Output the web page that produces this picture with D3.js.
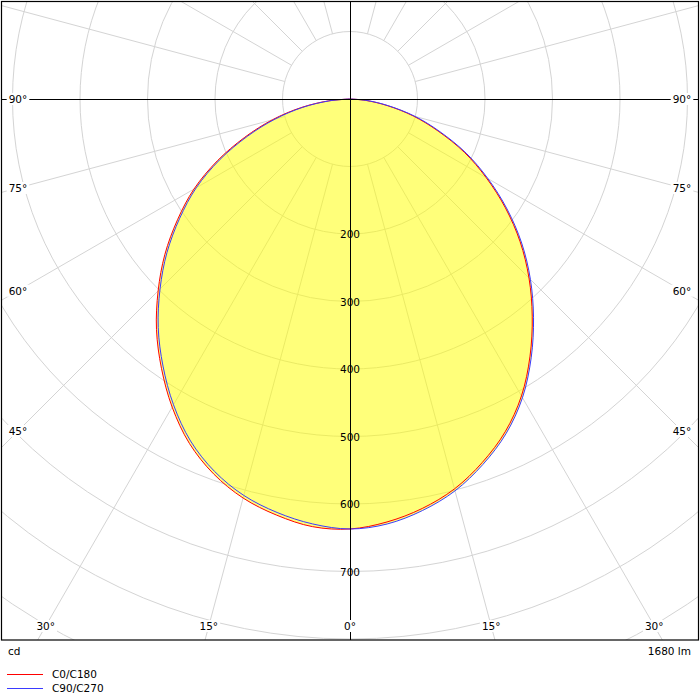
<!DOCTYPE html>
<html>
<head>
<meta charset="utf-8">
<script src="https://cdn.jsdelivr.net/npm/d3@7"></script>
<style>
  html, body { margin: 0; padding: 0; background: #fff; }
  svg { display: block; font-family: "DejaVu Sans", Verdana, sans-serif; font-size: 10.5px; }
</style>
</head>
<body>
<svg id="chart" width="700" height="700"></svg>
<script>
// ---- data ----
const gammaAngles = [0, 5, 10, 15, 20, 25, 30, 35, 40, 45, 50, 55, 60, 65, 70, 75, 80, 85, 90];
// C0/C180 (red): C0 right half, C180 left half
const c0   = [637, 629, 616, 598, 573, 544, 508, 465, 420, 375, 329, 281, 233, 187, 139, 97, 56, 23, 0];
const c180 = [637, 636, 626, 612, 591, 563, 527, 487, 446, 402, 358, 312, 267, 217, 166, 119, 74, 32, 0];
// C90/C270 (blue): C90 right half, C270 left half
const c90  = [637, 632, 619, 601, 576, 547, 511, 468, 423, 378, 332, 284, 236, 190, 142, 100, 58, 25, 0];
const c270 = [637, 632, 622, 608, 587, 559, 523, 483, 442, 398, 354, 308, 263, 213, 162, 115, 71, 30, 0];

const ringValues = [100, 200, 300, 400, 500, 600, 700, 800, 900, 1000];
const ringLabelValues = [200, 300, 400, 500, 600, 700];
const angleLabels = [90, 75, 60, 45, 30, 15, 0];
const spokeAngles = [15, 30, 45, 60, 75, 105, 120, 135, 150, 165, 195, 210, 225, 240, 255, 285, 300, 315, 330, 345];
const seriesNames = ["C0/C180", "C90/C270"];
const seriesColors = ["#ff0000", "#3a3aff"];
const unitLabel = "cd";
const fluxLabel = "1680 lm";

// ---- layout ----
const W = 700, chartH = 640;
const cx = 350, cy = 99;
const r = d3.scaleLinear().domain([0, 100]).range([0, 67.5]);
const rad = d => d * Math.PI / 180;

const svg = d3.select("#chart");
svg.append("defs").append("clipPath").attr("id", "clip")
  .append("rect").attr("x", 1).attr("y", 1).attr("width", 698).attr("height", chartH - 1);

const plot = svg.append("g").attr("clip-path", "url(#clip)");
const g = plot.append("g").attr("transform", `translate(${cx},${cy})`);

// rings
g.selectAll("circle.ring").data(ringValues).join("circle")
  .attr("class", "ring").attr("r", d => r(d))
  .attr("fill", "none").attr("stroke", "#d4d4d4").attr("stroke-width", 1);

// spokes (angle from downward vertical, clockwise to the right)
g.selectAll("line.spoke").data(spokeAngles).join("line")
  .attr("x1", d => r(100) * Math.sin(rad(d)))
  .attr("y1", d => r(100) * Math.cos(rad(d)))
  .attr("x2", d => r(1200) * Math.sin(rad(d)))
  .attr("y2", d => r(1200) * Math.cos(rad(d)))
  .attr("stroke", "#d4d4d4").attr("stroke-width", 1);

// axes
plot.append("line").attr("x1", 0).attr("x2", W).attr("y1", cy + 0.5).attr("y2", cy + 0.5)
  .attr("stroke", "#000").attr("stroke-width", 1);
plot.append("line").attr("x1", cx + 0.5).attr("x2", cx + 0.5).attr("y1", 0).attr("y2", chartH)
  .attr("stroke", "#000").attr("stroke-width", 1);

// build curve points: left half (angle pi+gamma) from 90 down to 0, then right half (pi-gamma) 0..90
function curvePoints(left, right) {
  const pts = [];
  for (let i = gammaAngles.length - 1; i >= 0; i--) pts.push([Math.PI + rad(gammaAngles[i]), r(left[i])]);
  for (let i = 1; i < gammaAngles.length; i++) pts.push([Math.PI - rad(gammaAngles[i]), r(right[i])]);
  return pts;
}
const radial = d3.lineRadial().angle(d => d[0]).radius(d => d[1]).curve(d3.curveCatmullRom);

// fill (outer envelope)
g.append("path").attr("d", radial(curvePoints(c180, c90)) + "Z")
  .attr("fill", "rgba(255,255,0,0.52)").attr("stroke", "none");

const series = [curvePoints(c180, c0), curvePoints(c270, c90)];
g.selectAll("path.series").data(series).join("path")
  .attr("class", "series").attr("d", d => radial(d))
  .attr("fill", "none").attr("stroke", (d, i) => seriesColors[i]).attr("stroke-width", 1);

// ring value labels
g.selectAll("text.rl").data(ringLabelValues).join("text")
  .attr("class", "rl").attr("x", 0).attr("y", d => r(d))
  .attr("text-anchor", "middle").attr("dominant-baseline", "central")
  .attr("fill", "#000").text(d => d);

// angle labels with white boxes
const labelItems = [];
angleLabels.forEach(a => {
  const sides = a === 0 ? [1] : [-1, 1];
  sides.forEach(s => {
    const sx = Math.sin(rad(a)), sy = Math.cos(rad(a));
    const tx = sx > 1e-6 ? (cx - 18) / sx : Infinity;
    const ty = sy > 1e-6 ? (626 - cy) / sy : Infinity;
    const t = Math.min(tx, ty);
    labelItems.push({ text: a + "°", x: cx + s * sx * t, y: cy + sy * t });
  });
});
const lg = plot.append("g");
const lab = lg.selectAll("g").data(labelItems).join("g");
lab.append("rect").attr("fill", "#fff");
lab.append("text").attr("x", d => d.x).attr("y", d => d.y)
  .attr("text-anchor", "middle").attr("dominant-baseline", "central")
  .attr("fill", "#000").text(d => d.text);
lab.each(function () {
  const t = d3.select(this).select("text").node().getBBox();
  d3.select(this).select("rect")
    .attr("x", t.x - 2).attr("y", t.y).attr("width", t.width + 4).attr("height", t.height);
});

// frame
svg.append("rect").attr("x", 1.5).attr("y", 1.5).attr("width", 697).attr("height", chartH - 1.5)
  .attr("fill", "none").attr("stroke", "#000").attr("stroke-width", 1.2);

// footer texts
svg.append("text").attr("x", 8).attr("y", 655).attr("fill", "#000").text(unitLabel);
svg.append("text").attr("x", 691).attr("y", 655).attr("text-anchor", "end").attr("fill", "#000").text(fluxLabel);

// legend
const leg = svg.append("g").selectAll("g").data(seriesNames).join("g")
  .attr("transform", (d, i) => `translate(0,${674 + i * 14})`);
leg.append("line").attr("x1", 7).attr("x2", 43).attr("y1", 0.5).attr("y2", 0.5)
  .attr("stroke", (d, i) => seriesColors[i]).attr("stroke-width", 1);
leg.append("text").attr("x", 52).attr("y", 0).attr("dominant-baseline", "central")
  .attr("fill", "#000").text(d => d);
</script>
</body>
</html>
